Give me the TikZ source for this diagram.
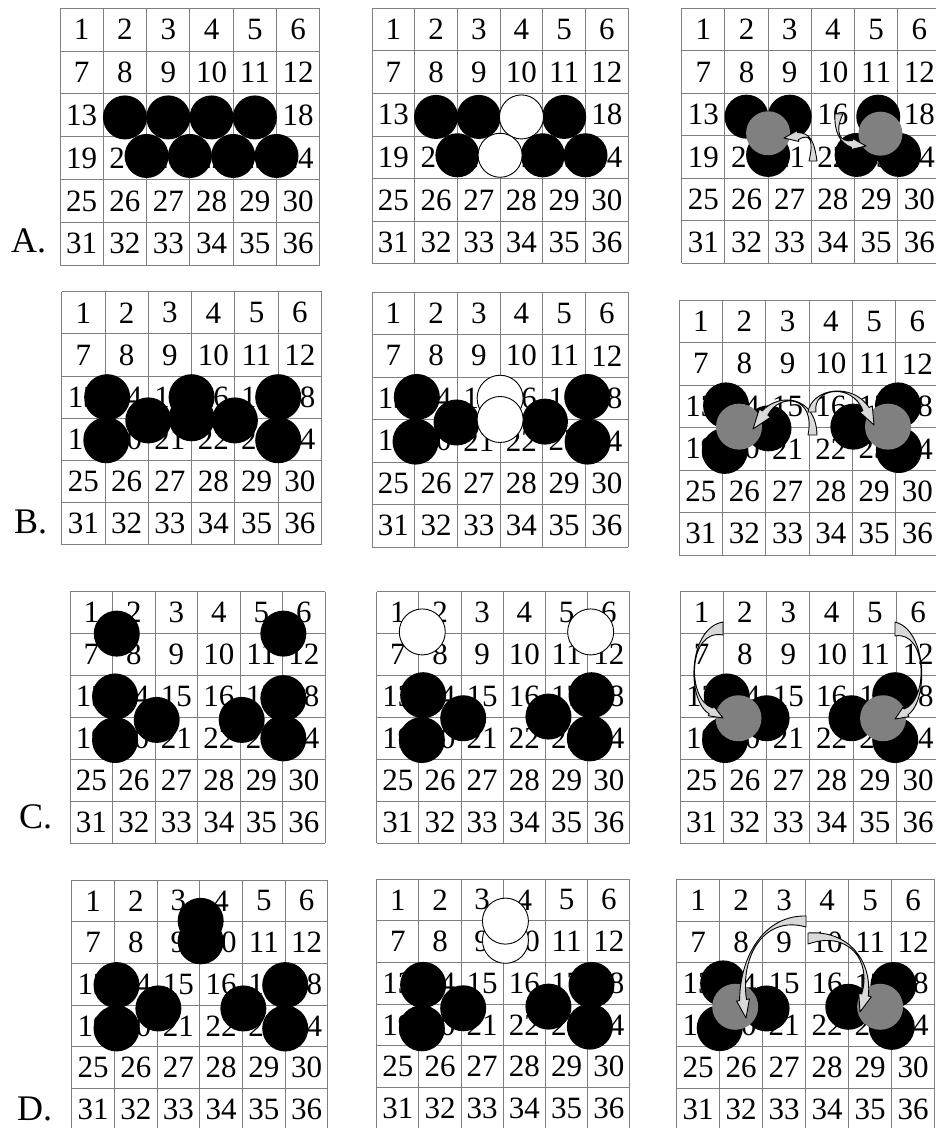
\documentclass[tikz,border=0pt]{standalone}
\usepackage{fontspec}
\setmainfont{Liberation Serif}
\usetikzlibrary{calc}
\tikzset{
  gsys/.style n args={4}{shift={(#1,#2)}, x=#3pt, y=-#4pt},
  gridline/.style={draw=black!50, line width=1pt},
  num/.style={inner sep=0pt, font=\fontsize{31}{31}\selectfont},
  lbl/.style={inner sep=0pt, font=\fontsize{36}{36}\selectfont},
  blk/.style={fill=black},
  wht/.style={fill=white, draw=black, line width=0.9pt},
  gry/.style={fill=black!50},
  arrowsty/.style={fill=black!15, draw=black, line width=0.9pt, line join=round},
}
\newcommand{\numgrid}[1]{%
  \foreach \i in {0,...,6} {\draw[gridline] (\i,0) -- (\i,6); \draw[gridline] (0,\i) -- (6,\i);}
  \foreach \r in {0,...,5} {\foreach \c in {0,...,5} {%
    \pgfmathtruncatemacro\n{6*\r+\c+1}%
    \node[num] (#1n\n) at (\c+0.5,\r+0.5) {\n};}}%
}
\newcommand{\bentarrow}[7]{%
  \filldraw[arrowsty] (#1) .. controls (#3) and (#4) .. ($(#5)!3.5pt!90:(#6)$) -- ($(#5)!#7pt!90:(#6)$) -- (#6) -- ($(#5)!#7pt!-90:(#6)$) -- ($(#5)!3.5pt!-90:(#6)$) .. controls (#4) and (#3) .. (#2) -- cycle;}
\begin{document}
\begin{tikzpicture}[x=1pt, y=-1pt]
\useasboundingbox (0,0) rectangle (936,1128);
\clip (0,0) rectangle (936,1128);
\fill[white] (0,0) rectangle (936,1128);
% ---------------- Row A
\node[lbl, anchor=base west] (labA) at (11,252) {A.};
\begin{scope}[gsys={60}{8.3}{43.3}{42.8}]
  \numgrid{a1}
  \foreach \p in {(1.5,2.55),(2.5,2.55),(3.5,2.55),(4.5,2.55),(2,3.45),(3,3.45),(4,3.45),(5,3.45)}
    \fill[blk] \p circle[radius=22pt];
\end{scope}
\begin{scope}[gsys={372}{8.3}{42.7}{42.6}]
  \numgrid{a2}
  \foreach \p in {(1.5,2.55),(2.5,2.55),(4.5,2.55)} \fill[blk] \p circle[radius=22pt];
  \filldraw[wht] (3.5,2.55) circle[radius=22pt];
  \foreach \p in {(2,3.45),(4,3.45),(5,3.45)} \fill[blk] \p circle[radius=22pt];
  \filldraw[wht] (3,3.45) circle[radius=22pt];
\end{scope}
\begin{scope}[gsys={681.7}{8.3}{43.2}{42.5}]
  \numgrid{a3}
  \foreach \p in {(1.5,2.55),(2.5,2.55),(2,3.45),(4.55,2.55),(4.05,3.45),(5.03,3.45)}
    \fill[blk] \p circle[radius=22pt];
  \fill[gry] (2,2.94) circle[radius=22pt];
  \fill[gry] (4.6,2.95) circle[radius=22pt];
\end{scope}
\bentarrow{809,161}{817,161}{814,140}{810,133}{798,136}{784,138}{5.5}
\bentarrow{843,114}{835,114}{834,132}{840,143}{852,144}{866,146}{5.5}
% ---------------- Row B
\node[lbl, anchor=base west] (labB) at (14,533) {B.};
\begin{scope}[gsys={61.7}{291.7}{43.3}{42.2}]
  \numgrid{b1}
  \foreach \p in {(1.05,2.5),(1.03,3.52),(2,3.05),(3,2.5),(3,3.0),(4,3.05),(5,2.5),(5,3.52)}
    \fill[blk] \p circle[radius=23pt];
\end{scope}
\begin{scope}[gsys={372}{292}{42.7}{42.5}]
  \numgrid{b2}
  \foreach \p in {(1.05,2.47),(1.02,3.52),(1.98,3.07),(4.05,3.05),(5.04,2.47),(5.05,3.52)}
    \fill[blk] \p circle[radius=23pt];
  \filldraw[wht] (3,2.5) circle[radius=23pt];
  \filldraw[wht] (3,3.0) circle[radius=23pt];
\end{scope}
\begin{scope}[gsys={679.3}{300}{43.3}{42.5}]
  \numgrid{b3}
  \foreach \p in {(1.08,2.48),(1.05,3.55),(2.06,3.02),(4.02,2.98),(5.05,2.48),(5.07,3.53)}
    \fill[blk] \p circle[radius=23pt];
  \fill[gry] (1.38,2.98) circle[radius=23pt];
  \fill[gry] (4.82,2.98) circle[radius=23pt];
\end{scope}
\bentarrow{808,435}{817,435}{816,396}{780,392}{765,413}{753,429}{7}
\bentarrow{808,412}{816,412}{812,388}{852,382}{866,409}{874,425}{7}
% ---------------- Row C
\node[lbl, anchor=base west] (labC) at (19,828) {C.};
\begin{scope}[gsys={70}{591.7}{42.5}{41.9}]
  \numgrid{c1}
  \foreach \p in {(1.1,1.0),(5.02,1.0),(1.06,2.5),(1.06,3.54),(2.04,3.06),(4.04,3.06),(5.02,2.54),(5.02,3.5)}
    \fill[blk] \p circle[radius=23pt];
\end{scope}
\begin{scope}[gsys={376.7}{591.7}{42.2}{41.9}]
  \numgrid{c2}
  \filldraw[wht] (1.08,0.96) circle[radius=23pt];
  \filldraw[wht] (5.07,0.96) circle[radius=23pt];
  \foreach \p in {(1.1,2.47),(1.07,3.54),(2.05,3.02),(4.07,2.98),(5.09,2.47),(5.05,3.5)}
    \fill[blk] \p circle[radius=23pt];
\end{scope}
\begin{scope}[gsys={680}{591.7}{43.3}{41.9}]
  \numgrid{c3}
  \foreach \p in {(1.08,2.5),(1.04,3.54),(2.0,3.02),(3.96,3.02),(4.97,2.47),(4.97,3.54)}
    \fill[blk] \p circle[radius=23pt];
  \fill[gry] (1.35,3.02) circle[radius=23pt];
  \fill[gry] (4.69,3.02) circle[radius=23pt];
\end{scope}
\bentarrow{723,635}{723,622}{688,628}{686,700}{711,711}{723,718}{5.5}
\bentarrow{895,622}{895,636}{927,630}{929,700}{906,712}{895,719}{5.5}
% ---------------- Row D
\node[lbl, anchor=base west] (labD) at (17,1120) {D.};
\begin{scope}[gsys={71.7}{880}{42.7}{41.7}]
  \numgrid{d1}
  \foreach \p in {(3.02,1.47),(3.02,0.98),(1.05,2.52),(1.05,3.56),(2.03,3.08),(4.02,3.08),(5.0,2.52),(5.0,3.56)}
    \fill[blk] \p circle[radius=23pt];
\end{scope}
\begin{scope}[gsys={376.7}{879}{42.2}{41.7}]
  \numgrid{d2}
  \filldraw[wht] (3.05,1.47) circle[radius=23pt];
  \filldraw[wht] (3.05,1.01) circle[radius=23pt];
  \foreach \p in {(1.1,2.54),(1.07,3.58),(2.05,3.1),(4.07,3.06),(5.09,2.54),(5.05,3.54)}
    \fill[blk] \p circle[radius=23pt];
\end{scope}
\begin{scope}[gsys={676.7}{879.3}{43}{41.8}]
  \numgrid{d3}
  \foreach \p in {(1.08,2.49),(1.0,3.56),(2.09,3.09),(3.99,3.05),(5.04,2.53),(5.0,3.53)}
    \fill[blk] \p circle[radius=23pt];
  \fill[gry] (1.36,3.05) circle[radius=23pt];
  \fill[gry] (4.73,3.05) circle[radius=23pt];
\end{scope}
\bentarrow{806,927}{806,916}{765,915}{740,955}{743,1000}{746,1018}{6.5}
\bentarrow{808,933}{808,944}{848,930}{872,960}{865,995}{860,1012}{6.5}
\end{tikzpicture}
\end{document}
